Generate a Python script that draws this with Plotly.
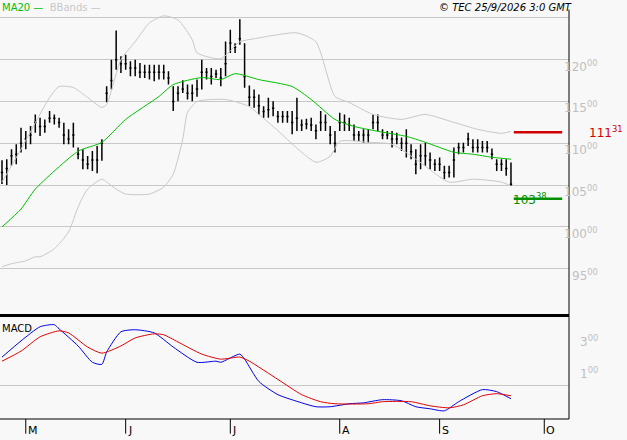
import numpy as np
import pandas as pd
import plotly.graph_objects as go
from plotly.subplots import make_subplots

# daily bars (high / low / close), Apr 24 - Sep 22 2026
high = [10798, 10810, 10929, 10988, 11187, 11147, 11206, 11345, 11306, 11286, 11385, 11345, 11306, 11246, 11167,
        11246, 10949, 10929, 10849, 10909, 10968, 11048, 11682, 12000, 12349, 12040, 12060, 11980, 12000, 11960,
        11940, 11940, 11940, 11940, 11940, 11861, 11682, 11682, 11754, 11702, 11702, 11762, 12000, 11901, 11901,
        11881, 11901, 12218, 12357, 12198, 12485, 12198, 11690, 11643, 11583, 11444, 11544, 11504, 11385, 11385,
        11385, 11385, 11544, 11286, 11294, 11306, 11226, 11385, 11345, 11206, 11147, 11365, 11345, 11306, 11226,
        11147, 11167, 11167, 11345, 11345, 11167, 11147, 11147, 11127, 11068, 11167, 10988, 10929, 10988, 11008,
        10890, 10810, 10830, 10730, 10730, 10949, 11008, 11008, 11127, 11048, 11048, 11028, 11028, 10937, 10810,
        10810, 10810, 10770]
low = [10512, 10500, 10730, 10750, 10890, 10929, 10988, 11127, 11087, 11127, 11246, 11226, 11187, 10988, 10988,
       10949, 10810, 10690, 10690, 10670, 10643, 10790, 11492, 11643, 11881, 11841, 11881, 11802, 11802, 11782,
       11782, 11762, 11742, 11762, 11762, 11702, 11385, 11504, 11603, 11524, 11504, 11556, 11643, 11762, 11702,
       11782, 11682, 11802, 12079, 12079, 12179, 11663, 11444, 11425, 11345, 11306, 11306, 11325, 11246, 11246,
       11246, 11107, 11147, 11147, 11167, 11147, 11048, 11147, 11147, 10988, 10890, 11147, 11147, 11147, 11028,
       11028, 11008, 11008, 11167, 11147, 11048, 11048, 10949, 10988, 10909, 10830, 10810, 10631, 10690, 10730,
       10690, 10670, 10670, 10571, 10591, 10591, 10869, 10890, 10968, 10890, 10890, 10890, 10890, 10810, 10670,
       10670, 10611, 10492]
close = [10650, 10700, 10850, 10870, 11000, 11050, 11100, 11250, 11200, 11200, 11300, 11300, 11250, 11100, 11050,
         11100, 10870, 10800, 10750, 10800, 10800, 11000, 11600, 11750, 12000, 11950, 11950, 11900, 11900, 11850,
         11850, 11850, 11850, 11850, 11850, 11780, 11500, 11600, 11650, 11600, 11600, 11650, 11850, 11850, 11800,
         11830, 11780, 11950, 12200, 12150, 12250, 11800, 11550, 11550, 11450, 11380, 11400, 11420, 11320, 11320,
         11320, 11250, 11300, 11220, 11230, 11220, 11150, 11250, 11250, 11100, 11000, 11250, 11250, 11220, 11100,
         11100, 11100, 11100, 11250, 11250, 11100, 11100, 11050, 11050, 11000, 11000, 10900, 10750, 10850, 10850,
         10800, 10750, 10750, 10650, 10650, 10800, 10950, 10950, 11050, 10950, 10950, 10950, 10950, 10870, 10750,
         10750, 10700, 10510]

dates = pd.bdate_range("2026-04-24", periods=len(high))
idx = np.arange(len(high))

# MA20 and Bollinger bands read at bar positions
ma_i = [0, 4, 7, 16, 21, 26, 33, 36, 42, 46, 49, 54, 61, 65, 70, 74, 79, 85, 89, 95, 99, 103, 107]
ma_v = [10000, 10214, 10452, 10905, 11012, 11286, 11560, 11702, 11786, 11762, 11833, 11762, 11679, 11524, 11286,
        11202, 11143, 11083, 11012, 10893, 10869, 10833, 10810]
bbl_i = [0, 2, 5, 7, 8, 11, 14, 16, 18, 21, 22, 24, 26, 31, 34, 36, 38, 39, 41, 47, 52, 54, 57, 66, 69, 71, 77, 82,
         87, 94, 99, 105, 107]
bbl_v = [9524, 9560, 9595, 9643, 9643, 9738, 9940, 10238, 10452, 10571, 10536, 10452, 10393, 10393, 10476, 10631,
         11048, 11369, 11500, 11524, 11440, 11345, 11202, 10774, 10845, 11024, 11012, 10988, 10810, 10536, 10571,
         10536, 10488]
bbu_i = [0, 4, 10, 12, 15, 18, 21, 22, 25, 28, 31, 34, 37, 40, 41, 46, 50, 53, 62, 66, 70, 73, 78, 84, 89, 95, 100,
         105, 107]
bbu_v = [10536, 10929, 11548, 11679, 11667, 11548, 11429, 11464, 12000, 12214, 12440, 12524, 12476, 12238, 12083,
         12012, 12214, 12250, 12321, 12214, 11560, 11488, 11345, 11286, 11345, 11250, 11167, 11119, 11143]

# MACD
macd_i = [0, 4, 8, 11, 12, 16, 19, 21, 22, 25, 28, 32, 36, 41, 45, 46, 50, 51, 54, 58, 63, 66, 69, 73, 76, 80, 84,
          87, 90, 93, 96, 101, 104, 107]
macd_v = [181, 284, 374, 387, 361, 252, 148, 135, 213, 342, 355, 335, 245, 148, 155, 148, 200, 168, 26, -58, -110,
          -135, -135, -116, -110, -90, -97, -135, -148, -161, -103, -26, -39, -84]
sig_i = [0, 4, 8, 12, 14, 18, 21, 25, 28, 32, 34, 37, 42, 46, 50, 52, 58, 63, 67, 70, 77, 80, 86, 90, 94, 97, 101,
         104, 107]
sig_v = [155, 219, 310, 348, 335, 245, 206, 252, 303, 329, 323, 277, 200, 168, 181, 155, 39, -58, -103, -116, -116,
         -103, -103, -129, -142, -123, -65, -52, -65]

price_ticks = [9500, 10000, 10500, 11000, 11500, 12000]
macd_ticks = [100, 300]
resistance = 11131
support = 10338

# first bar of each month (May 1 and Oct 1 sit off the bar changes: holidays / future)
month_pos = [5] + [i for i in range(6, len(dates)) if dates[i].month != dates[i - 1].month] + [114]
month_lbl = ["M", "J", "J", "A", "S", "O"]

fig = make_subplots(rows=2, cols=1, row_heights=[0.752, 0.248], vertical_spacing=0.005)

spl = dict(width=1, shape="spline", smoothing=0.6)
fig.add_trace(go.Scatter(x=bbu_i, y=bbu_v, mode="lines", line=dict(color="#c8c8c8", **spl)), 1, 1)
fig.add_trace(go.Scatter(x=bbl_i, y=bbl_v, mode="lines", line=dict(color="#c8c8c8", **spl)), 1, 1)
fig.add_trace(go.Scatter(x=ma_i, y=ma_v, mode="lines", line=dict(color="#00c000", **spl)), 1, 1)
fig.add_trace(go.Ohlc(x=idx, open=close, high=high, low=low, close=close, tickwidth=0.25,
                      increasing_line_color="black", decreasing_line_color="black", line_width=1.5), 1, 1)

fig.add_trace(go.Scatter(x=macd_i, y=macd_v, mode="lines", line=dict(color="#0000e0", **spl)), 2, 1)
fig.add_trace(go.Scatter(x=sig_i, y=sig_v, mode="lines", line=dict(color="#e00000", **spl)), 2, 1)

xr = [-0.42, 119.2]
fig.update_xaxes(range=xr, showgrid=False, zeroline=False, showticklabels=False, rangeslider_visible=False,
                 showline=False)
fig.update_yaxes(range=[8964, 12714], tickvals=price_ticks + [12500], showticklabels=False, gridcolor="#c8c8c8",
                 zeroline=False, row=1, col=1)
fig.update_yaxes(range=[-213, 445], tickvals=[0], showticklabels=False, gridcolor="#c8c8c8", zeroline=False,
                 row=2, col=1)

fig.add_shape(type="line", xref="paper", yref="paper", x0=0, x1=1, y0=0.2470, y1=0.2470,
              line=dict(color="black", width=3))
fig.add_shape(type="line", xref="paper", yref="paper", x0=1, x1=1, y0=0, y1=0.977, line=dict(color="black", width=1))
fig.add_shape(type="line", xref="paper", yref="paper", x0=0, x1=1, y0=0, y1=0, line=dict(color="black", width=1))

anns = []
for p in price_ticks:
    anns.append(dict(x=1.055, y=p, xref="paper", yref="y", yshift=-6, showarrow=False,
                     text=f"{p // 100}<sup>{p % 100:02d}</sup>", font=dict(size=12, color="#c0c0c0")))
for m in macd_ticks:
    anns.append(dict(x=1.055, y=m, xref="paper", yref="y2", yshift=-3, showarrow=False,
                     text=f"{m // 100}<sup>{m % 100:02d}</sup>", font=dict(size=12, color="#c0c0c0")))
for pos, lbl in zip(month_pos, month_lbl):
    fig.add_shape(type="line", x0=pos, x1=pos, xref="x2", yref="paper", y0=0, y1=-0.035,
                  line=dict(color="black", width=1))
    anns.append(dict(x=pos, y=-0.008, xref="x2", yref="paper", xanchor="left", yanchor="top", showarrow=False,
                     text=lbl, font=dict(size=11, color="black")))

fig.add_shape(type="line", xref="paper", yref="y", x0=0.903, x1=0.988, y0=resistance, y1=resistance,
              line=dict(color="#d00000", width=2.5))
fig.add_shape(type="line", xref="paper", yref="y", x0=0.903, x1=0.988, y0=support, y1=support,
              line=dict(color="#009000", width=2.5))
anns.append(dict(x=1.065, y=resistance, xref="paper", yref="y", xanchor="center", showarrow=False,
                 text=f"{resistance // 100}<sup>{resistance % 100:02d}</sup>", font=dict(size=12, color="#d00000")))
anns.append(dict(x=0.898, y=support, xref="paper", yref="y", xanchor="left", showarrow=False,
                 text=f"{support // 100}<sup>{support % 100:02d}</sup>", font=dict(size=12, color="#009000")))

anns += [
    dict(x=0, y=1, xref="paper", yref="paper", xanchor="left", yanchor="top", showarrow=False,
         text="<span style='color:#00c000'>MA20 —</span>  <span style='color:#c8c8c8'>BBands —</span>",
         font=dict(size=10)),
    dict(x=1.008, y=1, xref="paper", yref="paper", xanchor="right", yanchor="top", showarrow=False,
         text="<i>© TEC 25/9/2026 3:0 GMT</i>", font=dict(size=10, color="black")),
    dict(x=0, y=0.235, xref="paper", yref="paper", xanchor="left", yanchor="top", showarrow=False,
         text="MACD", font=dict(size=10, color="black")),
]

fig.update_layout(
    width=627, height=440,
    margin=dict(l=0, r=58, t=0, b=21, autoexpand=False),
    paper_bgcolor="#f8f8f8", plot_bgcolor="#f8f8f8",
    showlegend=False,
    font=dict(family="DejaVu Sans"),
    annotations=anns,
)

fig.write_html("out.html", config={"displayModeBar": False},
               post_script="document.body.style.margin='0px';")
